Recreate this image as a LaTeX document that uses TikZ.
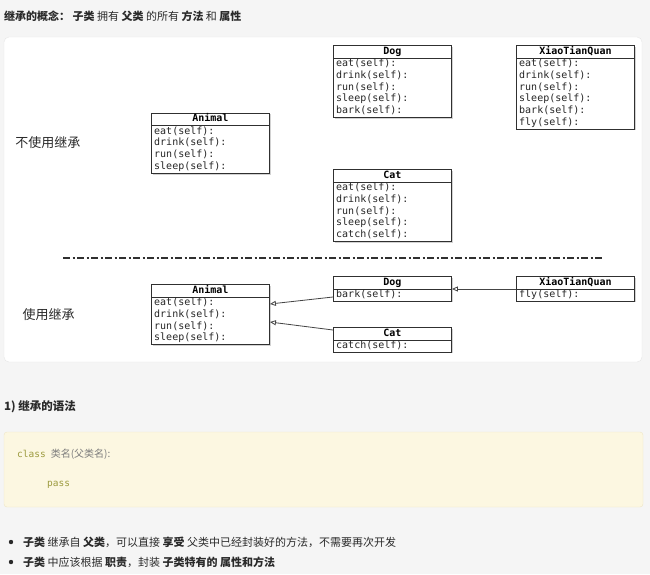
\documentclass[tikz,border=0pt]{standalone}
\usepackage{fontspec}
\setmainfont{Noto Sans CJK SC}
\newfontfamily\cjk{Noto Sans CJK SC}
\newfontfamily\mono{DejaVu Sans Mono}
\usetikzlibrary{arrows.meta,calc,shadows}
\definecolor{pagebg}{HTML}{F5F5F5}
\definecolor{panelline}{HTML}{E6E6E6}
\definecolor{codebg}{HTML}{FCF7E1}
\definecolor{codeline}{HTML}{EFE6C6}
\definecolor{kw}{HTML}{9C9A3E}
\definecolor{codegray}{HTML}{7A7A7A}
\definecolor{txt}{HTML}{2A2A2A}
\definecolor{umlline}{HTML}{303030}
\tikzset{
  clsbox/.style={draw=umlline, line width=0.9pt, rectangle, anchor=north west,
    minimum width=118pt, inner sep=0pt, fill=white,
    drop shadow={shadow xshift=1.2pt, shadow yshift=-1.2pt, opacity=0.35}},
  clsline/.style={draw=umlline, line width=0.8pt},
  clstitle/.style={inner sep=0pt, font=\mono\bfseries\fontsize{10}{12}\selectfont, text height=7pt, text depth=2pt},
  meth/.style={anchor=west, inner sep=0pt, font=\mono\fontsize{10}{12}\selectfont, text height=7pt, text depth=2pt, text=black!85},
  inh/.style={draw=umlline!90, line width=0.8pt, -{Triangle[open, length=6pt, width=5pt]}},
  sepline/.style={draw=umlline, line width=1.1pt, dash pattern=on 7pt off 2.5pt on 2pt off 2.5pt},
  sidelabel/.style={inner sep=0pt, font=\fontsize{13}{15}\selectfont, text=txt},
  bodytxt/.style={inner sep=0pt, anchor=west, font=\fontsize{11}{13}\selectfont, text=txt},
  bulletdot/.style={fill=txt, draw=none},
}
\newcommand{\umlcls}[6]{%
  \node[clsbox, minimum height={13+11.8*#4}] (#1) at (#2,#3) {};
  \draw[clsline] ($(#1.north west)+(0,13)$) -- ($(#1.north east)+(0,13)$);
  \node[clstitle] (#1-t) at ($(#1.north)+(0,6.5)$) {#5};
  \foreach \m [count=\i] in {#6} {\node[meth] (#1-m\i) at ($(#1.north west)+(3,{13+11.8*(\i-0.5)})$) {\m};}
}
\begin{document}
\begin{tikzpicture}[x=1pt,y=-1pt]
\useasboundingbox (0,0) rectangle (650,574);
\fill[pagebg] (0,0) rectangle (650,574);
% title
\node[bodytxt] (title) at (4,16) {\bfseries 继承的概念：\mdseries\ \bfseries 子类\mdseries\ 拥有 \bfseries 父类\mdseries\ 的所有 \bfseries 方法\mdseries\ 和 \bfseries 属性};
% panel
\filldraw[fill=white, draw=panelline, rounded corners=5pt] (4,37) rectangle (642,362);
% labels
\node[sidelabel] (lbl1) at (48,143) {不使用继承};
\node[sidelabel] (lbl2) at (48.5,315) {使用继承};
% top classes
\umlcls{animal1}{151}{112.7}{4}{Animal}{eat(self):,drink(self):,run(self):,sleep(self):}
\umlcls{dog1}{333}{45}{5}{Dog}{eat(self):,drink(self):,run(self):,sleep(self):,bark(self):}
\umlcls{xiao1}{516}{45}{6}{XiaoTianQuan}{eat(self):,drink(self):,run(self):,sleep(self):,bark(self):,fly(self):}
\umlcls{cat1}{333}{169}{5}{Cat}{eat(self):,drink(self):,run(self):,sleep(self):,catch(self):}
% separator
\coordinate (sepL) at (63,258);
\coordinate (sepR) at (603,258);
\draw[sepline] (sepL) -- (sepR);
% bottom classes
\umlcls{animal2}{151}{284}{4}{Animal}{eat(self):,drink(self):,run(self):,sleep(self):}
\umlcls{dog2}{333}{276}{1}{Dog}{bark(self):}
\umlcls{xiao2}{516}{276}{1}{XiaoTianQuan}{fly(self):}
\umlcls{cat2}{333}{327}{1}{Cat}{catch(self):}
% inheritance arrows
\coordinate (dogtail) at ($(dog2.north west)+(0,21)$);
\coordinate (anihead1) at ($(animal2.north east)+(0,20)$);
\coordinate (cattail) at ($(cat2.north west)+(0,3)$);
\coordinate (anihead2) at ($(animal2.north east)+(0,38)$);
\coordinate (xiaotail) at ($(xiao2.north west)+(0,13)$);
\coordinate (doghead) at ($(dog2.north east)+(0,13)$);
\draw[inh] (dogtail) -- (anihead1);
\draw[inh] (cattail) -- (anihead2);
\draw[inh] (xiaotail) -- (doghead);
% syntax section
\node[bodytxt, font=\bfseries\fontsize{11.5}{14}\selectfont] (sec) at (4,407) {1) 继承的语法};
\filldraw[fill=codebg, draw=codeline, rounded corners=3pt] (4,432) rectangle (643,507);
\node[bodytxt, font=\fontsize{10}{12}\selectfont] (code1) at (17,454) {{\mono\fontsize{9.5}{12}\selectfont\color{kw}class}\hspace{5pt}{\color{codegray}类名(父类名):}};
\node[bodytxt, font=\mono\fontsize{9.5}{12}\selectfont, text=kw] (code2) at (47,485) {pass};
% bullets
\fill[bulletdot] (11,542) circle (2.2pt);
\node[bodytxt] (t1) at (23,542) {\bfseries 子类\mdseries\ 继承自 \bfseries 父类\mdseries，可以直接 \bfseries 享受\mdseries\ 父类中已经封装好的方法，不需要再次开发};
\fill[bulletdot] (11,562) circle (2.2pt);
\node[bodytxt] (t2) at (23,562) {\bfseries 子类\mdseries\ 中应该根据 \bfseries 职责\mdseries，封装 \bfseries 子类特有的\mdseries\ \bfseries 属性和方法};
\end{tikzpicture}
\end{document}
